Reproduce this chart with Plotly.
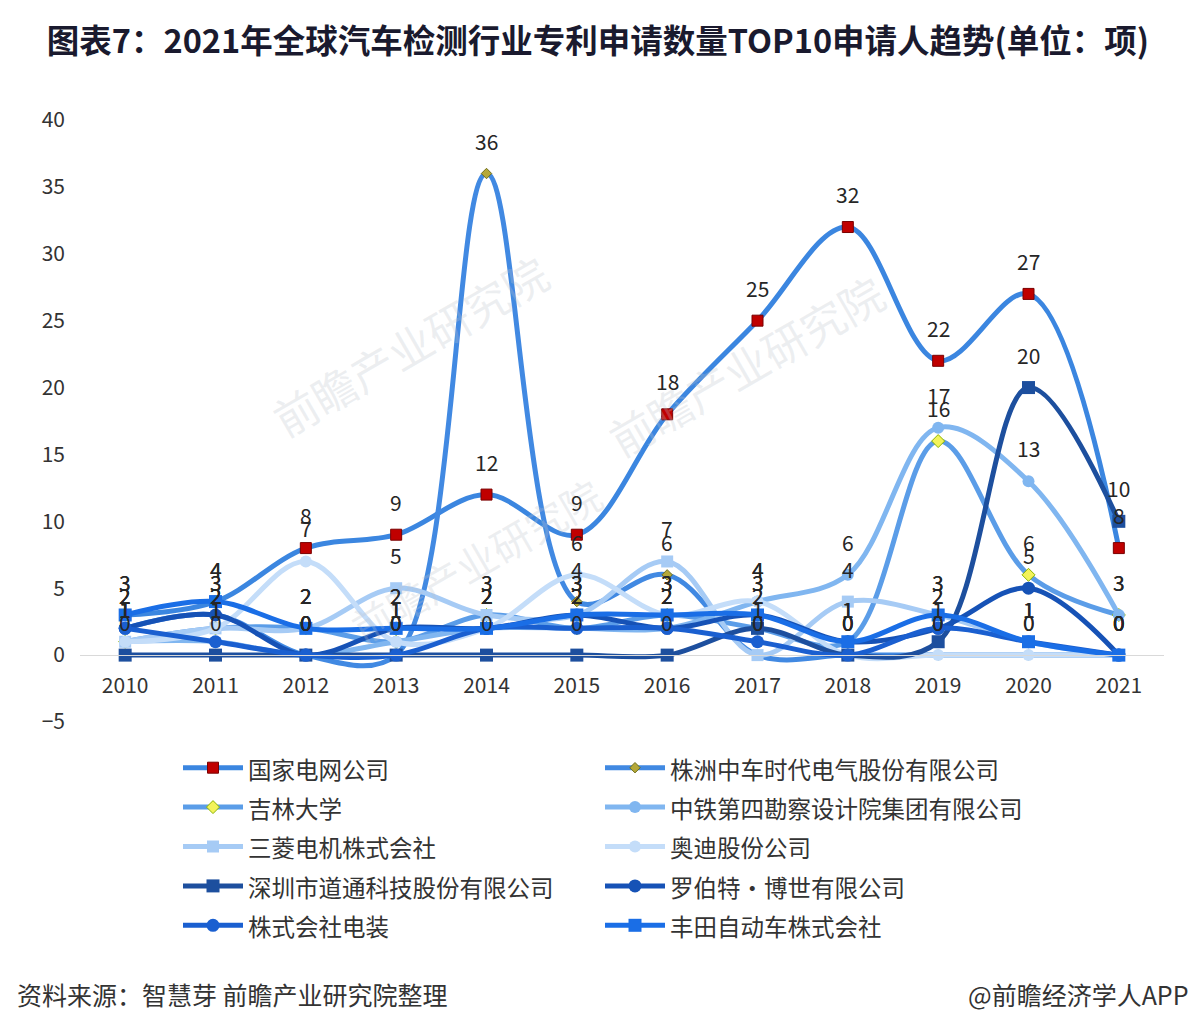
import plotly.graph_objects as go

years = [2010, 2011, 2012, 2013, 2014, 2015, 2016, 2017, 2018, 2019, 2020, 2021]

names = ["国家电网公司", "株洲中车时代电气股份有限公司", "吉林大学", "中铁第四勘察设计院集团有限公司",
         "三菱电机株式会社", "奥迪股份公司", "深圳市道通科技股份有限公司", "罗伯特·博世有限公司",
         "株式会社电装", "丰田自动车株式会社"]

guojia = [3, 4, 8, 9, 12, 9, 18, 25, 32, 22, 27, 8]
zhuzhou = [2, 3, 0, 0, 36, 4, 6, 0, 0, 0, 0, 0]
jilin = [1, 2, 2, 1, 3, 2, 3, 2, 1, 16, 6, 3]
zhongtie = [1, 1, 0, 1, 2, 2, 2, 4, 6, 17, 13, 3]
mitsubishi = [1, 2, 2, 5, 3, 3, 7, 0, 4, 3, 1, 0]
audi = [1, 2, 7, 1, 2, 6, 3, 4, 0, 0, 0, 0]
daotong = [0, 0, 0, 0, 0, 0, 0, 2, 0, 1, 20, 10]
bosch = [2, 3, 0, 2, 2, 3, 2, 3, 1, 2, 5, 0]
denso = [2, 1, 0, 0, 2, 2, 2, 1, 0, 2, 1, 0]
toyota = [3, 4, 2, 2, 2, 3, 3, 3, 1, 3, 1, 0]

series = [guojia, zhuzhou, jilin, zhongtie, mitsubishi, audi, daotong, bosch, denso, toyota]

line_colors = ["#3b86e0", "#4189e2", "#5b9de8", "#80b6f0", "#a6cbf5", "#c4ddf9",
               "#1d4f9e", "#1652b6", "#1a5fd0", "#1a6ee6"]
markers = [
    dict(symbol="square", size=11, color="#c00000", line=dict(color="#7a0000", width=1)),
    dict(symbol="diamond", size=8, color="#b5a838", line=dict(color="#6f6f1c", width=1)),
    dict(symbol="diamond", size=10, color="#f3f35a", line=dict(color="#8cb400", width=1)),
    dict(symbol="circle", size=12, color="#80b6f0"),
    dict(symbol="square", size=12, color="#a6cbf5"),
    dict(symbol="circle", size=12, color="#c4ddf9"),
    dict(symbol="square", size=13, color="#1d4f9e"),
    dict(symbol="circle", size=13, color="#1652b6"),
    dict(symbol="circle", size=13, color="#1a5fd0"),
    dict(symbol="square", size=13, color="#1a6ee6"),
]

FONT = "Noto Sans CJK SC"

# page body has an 8px margin; figure is sized/offset to compensate
W, H = 1188, 1028
L, R, T, B = 72, 32, 112, 314
PW = W - L - R
PH = H - T - B

fig = go.Figure()
for nm, vals, lc, mk in zip(names, series, line_colors, markers):
    fig.add_trace(go.Scatter(
        x=years, y=vals, name='<span style="font-size:23.5px">' + nm + '</span>',
        mode="lines+markers",
        line=dict(color=lc, width=5, shape="spline", smoothing=1.0),
        marker=mk,
    ))

annotations = []

# faint watermarks
for (px, py, sz) in [(250, 230, 44), (890, 250, 44), (330, 650, 40)]:
    annotations.append(dict(x=(px - L) / PW, y=1 - (py - T) / PH, xref="paper", yref="paper",
                            text="前瞻产业研究院", showarrow=False, textangle=-30,
                            font=dict(family=FONT, size=sz, color="rgba(190,195,205,0.28)")))

for vals in series:
    for x, v in zip(years, vals):
        annotations.append(dict(x=x, y=v, xref="x", yref="y", text=str(v), showarrow=False,
                                yshift=33, font=dict(family=FONT, size=21, color="#262626")))

annotations.append(dict(x=-(L - 7) / PW, y=-(986 - (H - B)) / PH, xref="paper", yref="paper",
                        xanchor="left", yanchor="middle",
                        text="资料来源：智慧芽 前瞻产业研究院整理", showarrow=False,
                        font=dict(family=FONT, size=25, color="#333333")))
annotations.append(dict(x=1 + (R - 5) / PW, y=-(986 - (H - B)) / PH, xref="paper", yref="paper",
                        xanchor="right", yanchor="middle",
                        text="@前瞻经济学人APP", showarrow=False,
                        font=dict(family=FONT, size=25, color="#333333")))

fig.update_layout(
    width=W, height=H,
    margin=dict(l=L, r=R, t=T, b=B),
    paper_bgcolor="white", plot_bgcolor="white",
    title=dict(text="<b>图表7：2021年全球汽车检测行业专利申请数量TOP10申请人趋势(单位：项)</b>",
               x=(590 - 0) / W, xanchor="center", y=1 - 34 / H, yanchor="middle",
               font=dict(family=FONT, size=32.5, color="#1a1a2e")),
    showlegend=True,
    legend=dict(orientation="h", x=(170 - L) / PW, xanchor="left",
                y=-(735 - (H - B)) / PH, yanchor="top",
                font=dict(family=FONT, size=28, color="#333333"),
                entrywidth=347, entrywidthmode="pixels", itemwidth=60,
                bgcolor="rgba(0,0,0,0)", traceorder="normal"),
    xaxis=dict(range=[2009.5, 2021.5], tickmode="array", tickvals=years,
               ticktext=[str(y) for y in years], showgrid=False, zeroline=False,
               showline=True, linecolor="#d9d9d9", linewidth=1, ticks="",
               anchor="free", position=5 / 45, ticklabelstandoff=12,
               tickfont=dict(family=FONT, size=21, color="#333333")),
    yaxis=dict(range=[-5, 40], dtick=5, tick0=0, showgrid=False, zeroline=False,
               showline=False, ticks="", ticklabelstandoff=14,
               tickfont=dict(family=FONT, size=21, color="#333333")),
    annotations=annotations,
)

fig.write_html("out.html")
